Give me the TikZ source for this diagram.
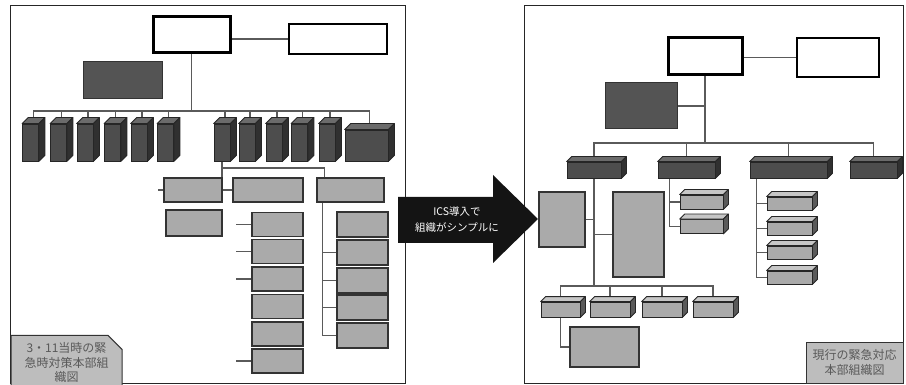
\documentclass[tikz,border=0pt]{standalone}
\usepackage{fontspec}
\newfontfamily\cjk{Noto Sans CJK JP}
\usetikzlibrary{shapes.misc, backgrounds}
\definecolor{wirecol}{HTML}{5A5A5A}
\definecolor{darkfill}{HTML}{545454}
\definecolor{boxfill}{HTML}{AAAAAA}
\definecolor{labelfill}{HTML}{BDBDBD}
\definecolor{cubefront}{HTML}{4D4D4D}
\definecolor{cubetopcol}{HTML}{6B6B6B}
\definecolor{cubesidecol}{HTML}{303030}
\definecolor{lcubetopcol}{HTML}{C6C6C6}
\definecolor{lcubesidecol}{HTML}{5A5A5A}

\begin{document}
\begin{tikzpicture}[x=1pt, y=-1pt,
	wire/.style={draw=wirecol, line width=1.2pt},
	frame/.style={draw=black!85, line width=1pt},
	sz/.style 2 args={minimum width=#1pt, minimum height=#2pt, inner sep=0pt},
	whitebox/.style={shape=rectangle, draw=black, fill=white, line width=3pt},
	darkbox/.style={shape=rectangle, draw=black!80, fill=darkfill, line width=1pt},
	greybox/.style={shape=rectangle, draw=black!80, fill=boxfill, line width=1.2pt},
	cube/.style={shape=rectangle, draw=black!85, fill=cubefront, line width=0.8pt},
	lcube/.style={cube, fill=boxfill},
	cubetop/.style={draw=black!85, fill=cubetopcol, line width=0.8pt, line join=round},
	cubeside/.style={draw=black!85, fill=cubesidecol, line width=0.8pt, line join=round},
	lcubetop/.style={cubetop, fill=lcubetopcol},
	lcubeside/.style={cubeside, fill=lcubesidecol},
	labelbox/.style={shape=rectangle, draw=black!80, fill=labelfill, line width=1pt, align=center, text=black!65, font=\cjk\fontsize{12}{14.5}\selectfont},
]
	\useasboundingbox (0,0) rectangle (906,385);
	% Left panel: organisation at 3.11
	\draw[frame] (10,6) rectangle (405,383);
	\node[whitebox, sz={77}{36}] (topL) at (191.5,35) {};
	\node[whitebox, line width=2pt, sz={98}{30}] (sideL) at (338,39) {};
	\node[darkbox, sz={79}{37}] (darkL) at (122.5,80.5) {};
	\coordinate (busL) at (191.5,111);
	\foreach \i/\x in {1/30.5, 2/58.5, 3/85, 4/112.5, 5/139, 6/165.5, 7/222, 8/247, 9/274, 10/299.5, 11/327}
		\node[cube, sz={16}{37}] (cL\i) at (\x,142.5) {};
	\node[cube, sz={43}{31}] (cL12) at (366.5,145.5) {};
	\node[greybox, sz={58}{24}] (boA) at (193,190) {};
	\node[greybox, sz={70}{24}] (boB) at (268,190) {};
	\node[greybox, sz={67}{24}] (boC) at (350.5,190) {};
	\node[greybox, sz={56}{26}] (boD) at (194,223) {};
	\foreach \i/\y in {1/224.5, 2/251.5, 3/279, 4/306.5, 5/334, 6/361}
		\node[greybox, sz={51}{24}] (bb\i) at (277.5,\y) {};
	\foreach \i/\y in {1/224.5, 2/252.5, 3/280.5, 4/307.5, 5/335.5}
		\node[greybox, sz={51}{25}] (bc\i) at (362.5,\y) {};
	\node[labelbox, shape=chamfered rectangle, chamfered rectangle corners=north east, chamfered rectangle sep=7pt, sz={111}{41}] (capL) at (66.5,362.5) {3・11当時の緊\\急時対策本部組\\織図};

	% Right panel: current organisation
	\draw[frame] (524,6) rectangle (903,383);
	\node[whitebox, sz={74}{37}] (topR) at (705,56.5) {};
	\node[whitebox, line width=2.5pt, sz={82}{39}] (sideR) at (838,57.5) {};
	\node[darkbox, sz={72}{46}] (darkR) at (641,106) {};
	\coordinate (busR) at (705,143);
	\foreach \i/\x/\w in {1/594/54, 2/686.5/57, 3/788.5/77, 4/873.5/47}
		\node[cube, sz={\w}{16}] (kR\i) at (\x,170) {};
	\node[greybox, sz={46}{55}] (leftR) at (562,219.5) {};
	\node[greybox, sz={51}{85}] (tallR) at (638.5,234.5) {};
	\coordinate (busR2) at (594,286);
	\foreach \i/\x/\w in {1/560.5/39, 2/610/40, 3/662/40, 4/713/40}
		\node[lcube, sz={\w}{15}] (mR\i) at (\x,309.5) {};
	\node[greybox, sz={69}{40}] (botR) at (604.5,347) {};
	\foreach \i/\y in {1/202, 2/226.5}
		\node[lcube, sz={43}{14}] (nR\i) at (701.5,\y) {};
	\foreach \i/\y in {1/203.5, 2/228.5, 3/252.5, 4/277.5}
		\node[lcube, sz={45}{13}] (pR\i) at (789.5,\y) {};
	\node[labelbox, sz={97}{41}] (capR) at (854.5,362.5) {現行の緊急対応\\本部組織図};

	% Wires
	\begin{pgfonlayer}{background}
		\draw[wire] (sideL.west -| topL.east) -- (sideL.west);
		\draw[wire] (topL.south) -- (busL);
		\foreach \i in {1,...,12}
			\draw[wire] (busL) -| ([xshift=3pt]cL\i.north);
		\draw[wire] (cL7.south) -- (cL7.south |- boA.east);
		\draw[wire] (boA.east) -- (boB.west);
		\coordinate (stubA) at (158,190);
		\draw[wire] (stubA) -- (boA.west);
		\coordinate (forkL) at (222,168);
		\draw[wire] (forkL) -| ([xshift=8pt]boC.north west);
		\foreach \i in {1,2,3,6}
			\draw[wire] (bb\i.west) -- ++(-15,0);
		\coordinate (trunkC) at ([xshift=6pt]boC.south west);
		\foreach \i in {2,...,5}
			\draw[wire] (trunkC) |- (bc\i.west);

		\draw[wire] (sideR.west -| topR.east) -- (sideR.west);
		\draw[wire] (topR.south) -- (busR);
		\draw[wire] (darkR.east) -- (darkR.east -| busR);
		\foreach \i in {1,...,4}
			\draw[wire] (busR) -| (kR\i.north);
		\draw[wire] (kR1.south) -- (busR2);
		\draw[wire] (leftR.east) -- (leftR.east -| kR1.south);
		\draw[wire] (tallR.west -| kR1.south) -- (tallR.west);
		\foreach \i in {1,...,4}
			\draw[wire] (busR2) -| (mR\i.north);
		\draw[wire] (mR1.south) |- (botR.west);
		\coordinate (trunkK2) at ([xshift=12pt]kR2.south west);
		\foreach \i in {1,2}
			\draw[wire] (trunkK2) |- (nR\i.west);
		\coordinate (trunkK3) at ([xshift=7pt]kR3.south west);
		\foreach \i in {1,...,4}
			\draw[wire] (trunkK3) |- (pR\i.west);
	\end{pgfonlayer}

	% Cube faces
	\foreach \c/\d in {cL1/6, cL2/6, cL3/6, cL4/6, cL5/6, cL6/6, cL7/6, cL8/6, cL9/6, cL10/6, cL11/6, cL12/6, kR1/5, kR2/5, kR3/5, kR4/5} {
		\filldraw[cubetop] (\c.north west) -- ++(\d,-\d) -- ([shift={(\d,-\d)}]\c.north east) -- (\c.north east) -- cycle;
		\filldraw[cubeside] (\c.north east) -- ++(\d,-\d) -- ([shift={(\d,-\d)}]\c.south east) -- (\c.south east) -- cycle;
	}
	\foreach \c in {mR1, mR2, mR3, mR4, nR1, nR2, pR1, pR2, pR3, pR4} {
		\filldraw[lcubetop] (\c.north west) -- ++(5,-5) -- ([shift={(5,-5)}]\c.north east) -- (\c.north east) -- cycle;
		\filldraw[lcubeside] (\c.north east) -- ++(5,-5) -- ([shift={(5,-5)}]\c.south east) -- (\c.south east) -- cycle;
	}

	% Arrow between the panels
	\fill[black!92] (398,197) -- (493,197) -- (493,175) -- (538,219) -- (493,263) -- (493,243) -- (398,243) -- cycle;
	\node[align=center, text=white, font=\cjk\fontsize{10.5}{16}\selectfont] (arrowtxt) at (457,220) {ICS導入で\\組織がシンプルに};
\end{tikzpicture}
\end{document}
